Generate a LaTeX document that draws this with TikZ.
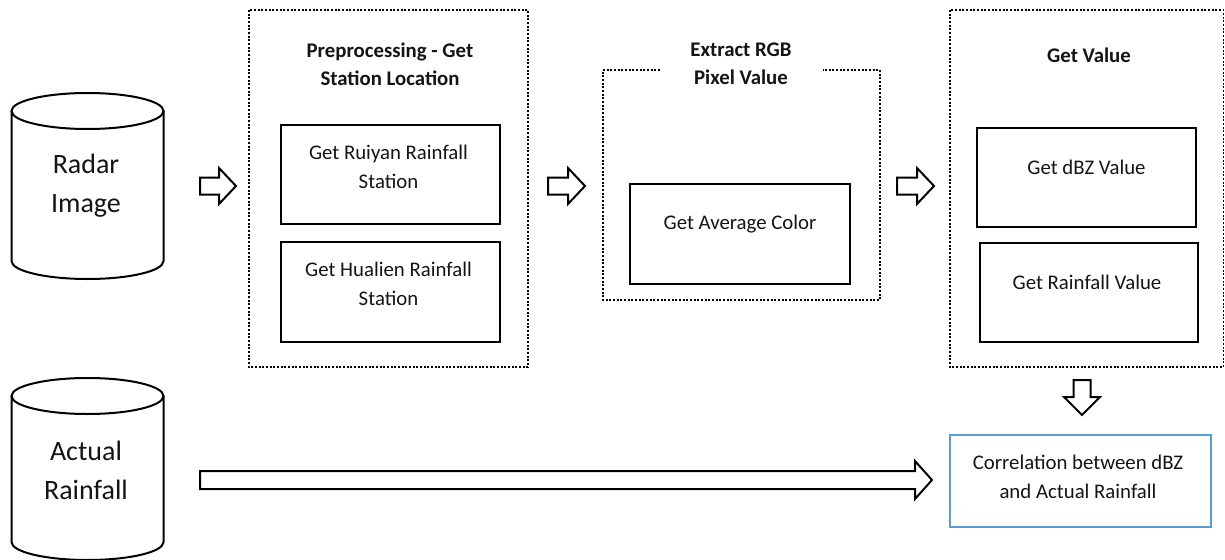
\documentclass[tikz,border=0pt]{standalone}
\usepackage{fontspec}
\setmainfont{Carlito}
\definecolor{boxblue}{RGB}{91,155,213}
\definecolor{txt}{RGB}{20,20,20}
\newcommand{\drawcyl}[5]{% cx, rx, ytop, ybot, ry
  \fill[white] (#1-#2,#3) -- (#1-#2,#4) arc[start angle=180,end angle=360,x radius=#2,y radius=#5] -- (#1+#2,#3) -- cycle;
  \draw[cyl] (#1,#3) ellipse[x radius=#2, y radius=#5];
  \draw[cyl] (#1-#2,#3) -- (#1-#2,#4) arc[start angle=180,end angle=360,x radius=#2,y radius=#5] -- (#1+#2,#3);
}
\newcommand{\rblockarrow}[3]{% x1, x2, y
  \draw[blockarrow] (#1,#3+8.5) -- (#2-17,#3+8.5) -- (#2-17,#3+18) -- (#2,#3) -- (#2-17,#3-18) -- (#2-17,#3-8.5) -- (#1,#3-8.5) -- cycle;
}
\begin{document}
\begin{tikzpicture}[x=0.75pt,y=0.75pt,
  solidbox/.style={draw=black, line width=1.5pt},
  dotbox/.style={draw=black, line width=1.45pt, dash pattern=on 1.45pt off 1.3pt},
  boxtext/.style={font=\fontsize{15.6}{21.75}\selectfont, align=center, inner sep=0pt, text=txt},
  titletext/.style={font=\fontsize{15.6}{21}\selectfont\bfseries, align=center, inner sep=0pt, text=txt},
  cyltext/.style={font=\fontsize{21}{29.25}\selectfont, align=center, inner sep=0pt, text=txt},
  cyl/.style={draw=black, line width=1.5pt},
  blockarrow/.style={draw=black, line width=1.5pt, fill=white, line join=miter},
]
\useasboundingbox (0,0) rectangle (1225,-560);

% cylinders
\drawcyl{87.5}{76}{-111}{-261}{18}
\coordinate (radar) at (87.5,-186);
\node[cyltext] (radartext) at (86,-186) {Radar\\Image};

\drawcyl{87.5}{76}{-396}{-542}{18}
\coordinate (actual) at (87.5,-470);
\node[cyltext] (actualtext) at (86,-470) {Actual\\Rainfall};

% block 1: preprocessing
\draw[dotbox] (249,-10) rectangle (528,-367);
\node[titletext] (pretitle) at (390,-64) {Preprocessing - Get\\Station Location};
\draw[solidbox] (281,-125) rectangle (500,-224);
\node[boxtext] (ruiyan) at (388.5,-166.5) {Get Ruiyan Rainfall\\Station};
\draw[solidbox] (281,-242) rectangle (500,-342);
\node[boxtext] (hualien) at (388.5,-283.5) {Get Hualien Rainfall\\Station};

% block 2: extract RGB
\draw[dotbox] (660,-70) -- (603,-70) -- (603,-300) -- (880,-300) -- (880,-70) -- (823,-70);
\node[titletext] (rgbtitle) at (741,-64) {Extract RGB\\Pixel Value};
\draw[solidbox] (630,-184) rectangle (850,-284);
\node[boxtext] (avg) at (740,-224) {Get Average Color};

% block 3: get value
\draw[dotbox] (950,-10) rectangle (1223.5,-367);
\node[titletext] (valtitle) at (1089,-55) {Get Value};
\draw[solidbox] (977,-128) rectangle (1196,-227);
\node[boxtext] (dbz) at (1086.5,-167) {Get dBZ Value};
\draw[solidbox] (980,-243) rectangle (1198,-342);
\node[boxtext] (rainval) at (1087,-282) {Get Rainfall Value};

% correlation
\draw[draw=boxblue, line width=1.6pt] (950,-435) rectangle (1211,-527);
\node[boxtext] (corr) at (1078,-477) {Correlation between dBZ\\and Actual Rainfall};

% block arrows
\rblockarrow{200}{236}{-186}
\rblockarrow{548}{585}{-186}
\rblockarrow{897}{934}{-186}
\draw[blockarrow] (1073.5,-380) -- (1073.5,-397) -- (1064,-397) -- (1082,-415) -- (1100,-397) -- (1090.5,-397) -- (1090.5,-380) -- cycle;
\draw[blockarrow] (200,-471) -- (915,-471) -- (915,-461) -- (932,-480) -- (915,-499) -- (915,-489) -- (200,-489) -- cycle;
\end{tikzpicture}
\end{document}
